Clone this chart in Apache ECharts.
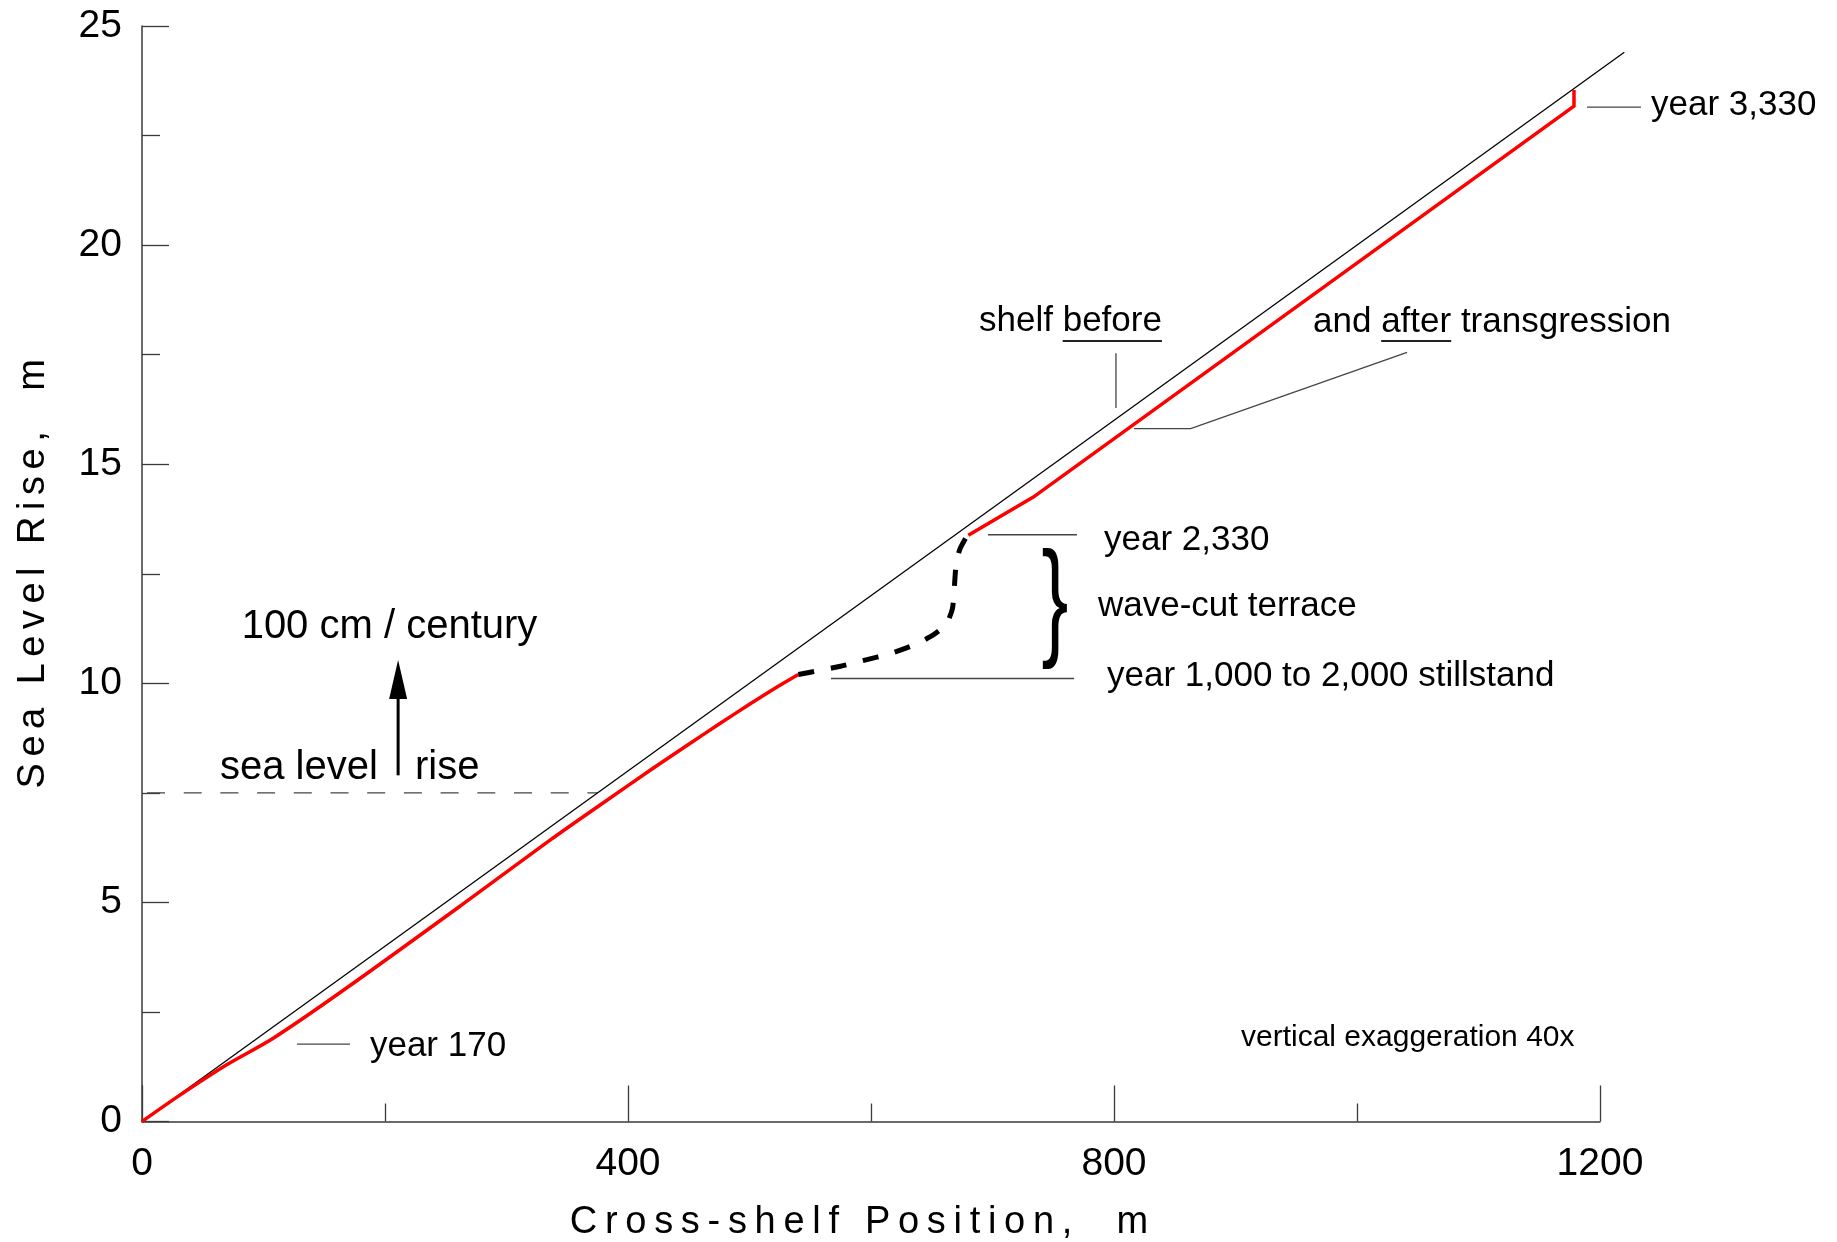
<!DOCTYPE html>
<html>
<head>
<meta charset="utf-8">
<script src="https://cdn.jsdelivr.net/npm/echarts@6/dist/echarts.min.js"></script>
<style>
html,body{margin:0;padding:0;background:#fff;}
#chart{width:1837px;height:1242px;}
</style>
</head>
<body>
<div id="chart"></div>
<script>
// ---------------- data ----------------
const xTicks = [0, 400, 800, 1200];
const yTicks = [0, 5, 10, 15, 20, 25];

// initial shelf profile (before transgression)
const shelfBeforeX = [0, 1220];
const shelfBeforeY = [0, 24.4];

// shelf after transgression: lower part (years 0 - 1,000)
const lowerProfileX = [0, 30, 70, 108, 166, 268.5, 335.8, 380, 420, 450, 475, 500, 520, 540.2];
const lowerProfileY = [0, 0.58, 1.30, 1.90, 3.00, 5.05, 6.42, 7.28, 8.05, 8.61, 9.07, 9.52, 9.87, 10.20];

// wave-cut terrace during stillstand (dashed)
const terraceX = [540.2, 555, 575, 595, 615, 635, 651, 662, 667, 668.5, 670, 673, 679, 680.1];
const terraceY = [10.20, 10.28, 10.39, 10.53, 10.67, 10.87, 11.10, 11.35, 11.70, 12.15, 12.70, 13.05, 13.36, 13.38];

// shelf after transgression: upper part (years 2,330 - 3,330)
const upperProfileX = [680.1, 733.6, 1178.6, 1178.6];
const upperProfileY = [13.38, 14.25, 23.17, 23.54];

// reference sea level (dashed)
const seaLevelX = [0, 375];
const seaLevelY = [7.5, 7.5];

const xAxisTitle = 'Cross-shelf Position,  m';
const yAxisTitle = 'Sea Level Rise,  m';

// ---------------- tracked (letter-spaced) drawing for the two axis titles only ----------------
const SPACED = {};
SPACED[xAxisTitle] = 7.7;
SPACED[yAxisTitle] = 6.5;
(function () {
  const proto = CanvasRenderingContext2D.prototype;
  const orig = proto.fillText;
  proto.fillText = function (t, x, y) {
    const ls = SPACED[t];
    if (ls != null) {
      const chars = Array.from(t);
      const widths = chars.map(c => this.measureText(c).width);
      const total = widths.reduce((a, b) => a + b, 0) + ls * (chars.length - 1);
      const align = this.textAlign;
      let cx = x;
      if (align === 'center') cx = x - total / 2;
      else if (align === 'right' || align === 'end') cx = x - total;
      this.textAlign = 'left';
      for (let i = 0; i < chars.length; i++) {
        orig.call(this, chars[i], cx, y);
        cx += widths[i] + ls;
      }
      this.textAlign = align;
      return;
    }
    return orig.apply(this, arguments);
  };
})();

const FONT = '"Liberation Sans", Arial, Helvetica, sans-serif';
const AX = '#3a3a3a';

function pairs(xs, ys) { return xs.map((x, i) => [x, ys[i]]); }

const chart = echarts.init(document.getElementById('chart'), null, { renderer: 'canvas' });

const option = {
  animation: false,
  backgroundColor: '#ffffff',
  grid: { left: 142, right: 237, top: 26, bottom: 120.5, containLabel: false, outerBoundsMode: 'none' },
  xAxis: {
    type: 'value',
    min: xTicks[0], max: xTicks[xTicks.length - 1], interval: xTicks[1] - xTicks[0],
    name: xAxisTitle, nameLocation: 'middle', nameGap: 82,
    nameTextStyle: { fontFamily: FONT, fontSize: 38, color: '#000', padding: [0, 24, 0, 0] },
    axisLine: { show: true, onZero: false, lineStyle: { color: AX, width: 1.5 } },
    axisTick: { show: true, inside: true, length: 36, lineStyle: { color: AX, width: 1.3 } },
    minorTick: { show: true, splitNumber: 2, length: 18, lineStyle: { color: AX, width: 1.3 } },
    axisLabel: { fontFamily: FONT, fontSize: 39, color: '#000', margin: 23, formatter: v => String(v) },
    splitLine: { show: false }, minorSplitLine: { show: false }
  },
  yAxis: {
    type: 'value',
    min: yTicks[0], max: yTicks[yTicks.length - 1], interval: yTicks[1] - yTicks[0],
    name: yAxisTitle, nameLocation: 'middle', nameGap: 89, nameRotate: 90,
    nameTextStyle: { fontFamily: FONT, fontSize: 38, color: '#000' },
    axisLine: { show: true, onZero: false, lineStyle: { color: AX, width: 1.5 } },
    axisTick: { show: true, inside: true, length: 27, lineStyle: { color: AX, width: 1.3 } },
    minorTick: { show: true, splitNumber: 2, length: 18, lineStyle: { color: AX, width: 1.3 } },
    axisLabel: { fontFamily: FONT, fontSize: 39, color: '#000', margin: 20, formatter: v => String(v) },
    splitLine: { show: false }, minorSplitLine: { show: false }
  },
  series: [
    // 'lines' series so the profile may run past the x-axis end (line series clips along the base axis)
    { name: 'shelf before', type: 'lines', coordinateSystem: 'cartesian2d', polyline: true, clip: false,
      silent: true, z: 2, data: [{ coords: pairs(shelfBeforeX, shelfBeforeY) }],
      lineStyle: { color: '#000', width: 1.3, opacity: 1, curveness: 0 } },
    { name: 'sea level', type: 'line', data: pairs(seaLevelX, seaLevelY), showSymbol: false, silent: true, z: 1,
      lineStyle: { color: '#444', width: 1.4, type: [18, 18.7], dashOffset: 31.7 } },
    { name: 'after lower', type: 'line', data: pairs(lowerProfileX, lowerProfileY), showSymbol: false, silent: true, z: 3,
      smooth: 0.3, lineStyle: { color: '#ff0000', width: 3.5, join: 'round' } },
    { name: 'stillstand terrace', type: 'line', data: pairs(terraceX, terraceY), showSymbol: false, silent: true, z: 3,
      smooth: 0.2, lineStyle: { color: '#000', width: 5, type: [16, 17], cap: 'butt' } },
    { name: 'after upper', type: 'line', data: pairs(upperProfileX, upperProfileY), showSymbol: false, silent: true, z: 3,
      lineStyle: { color: '#ff0000', width: 3.5, join: 'miter' } }
  ]
};
chart.setOption(option);

// ---------------- annotations (anchored in data coordinates) ----------------
const notes = [
  { text: 'year 170', at: [187.6, 1.72], size: 35 },
  { text: 'vertical exaggeration 40x', at: [904.5, 1.905], size: 30 },
  { text: 'year 3,330', at: [1242, 23.19], size: 35 },
  { text: 'shelf before', at: [688.9, 18.26], size: 35, underline: 'before' },
  { text: 'and after transgression', at: [963.8, 18.24], size: 35, underline: 'after' },
  { text: 'year 2,330', at: [791.8, 13.26], size: 35 },
  { text: 'wave-cut terrace', at: [786.8, 11.76], size: 35 },
  { text: 'year 1,000 to 2,000 stillstand', at: [794.2, 10.16], size: 35 },
  { text: '100 cm / century', at: [82, 11.29], size: 40 },
  { text: 'sea level', at: [64.2, 8.07], size: 40 },
  { text: 'rise', at: [224.7, 8.07], size: 40 }
];
const underlineY = 17.81;
const pointers = [
  [[127.6, 1.768], [171.2, 1.768]],
  [[1189.3, 23.15], [1233.7, 23.15]],
  [[801.6, 17.53], [801.6, 16.28]],
  [[1041.2, 17.55], [863.1, 15.81], [816.5, 15.81]],
  [[696.3, 13.39], [769.5, 13.39]],
  [[567.1, 10.11], [767.1, 10.11]]
];
const arrowFrom = [210.8, 7.9];
const arrowTo = [210.8, 10.53];
const braceCenter = [751.4, 11.76];
const braceSpan = [10.37, 13.15];

const px = (p) => chart.convertToPixel({ gridIndex: 0 }, p);
const mctx = document.createElement('canvas').getContext('2d');
function textW(s, size) { mctx.font = size + 'px ' + FONT; return mctx.measureText(s).width; }

const g = [];
notes.forEach(n => {
  const p = px(n.at);
  g.push({ type: 'text', x: p[0], y: p[1], silent: true, z: 10,
    style: { text: n.text, fontFamily: FONT, fontSize: n.size, fill: '#000', align: 'left', verticalAlign: 'middle' } });
  if (n.underline) {
    const idx = n.text.indexOf(n.underline);
    const x1 = p[0] + textW(n.text.slice(0, idx), n.size);
    const x2 = x1 + textW(n.underline, n.size);
    const uy = px([0, underlineY])[1];
    g.push({ type: 'line', silent: true, z: 10, shape: { x1: x1, y1: uy, x2: x2, y2: uy },
      style: { stroke: '#222', lineWidth: 2 } });
  }
});
pointers.forEach(pts => {
  g.push({ type: 'polyline', silent: true, z: 10, shape: { points: pts.map(px) },
    style: { stroke: '#444', lineWidth: 1.3, fill: null } });
});
// arrow
const a0 = px(arrowFrom), a1 = px(arrowTo);
const headH = 39, headW = 18;
g.push({ type: 'line', silent: true, z: 10, shape: { x1: a0[0], y1: a0[1], x2: a1[0], y2: a1[1] + headH - 2 },
  style: { stroke: '#000', lineWidth: 3 } });
g.push({ type: 'polygon', silent: true, z: 10,
  shape: { points: [[a1[0], a1[1]], [a1[0] - headW / 2, a1[1] + headH], [a1[0] + headW / 2, a1[1] + headH]] },
  style: { fill: '#000' } });
// brace
const bc = px(braceCenter);
const bTop = px([braceCenter[0], braceSpan[1]])[1], bBot = px([braceCenter[0], braceSpan[0]])[1];
const bSize = (bBot - bTop) / 0.94;
g.push({ type: 'text', x: bc[0], y: bc[1], scaleX: 0.62, silent: true, z: 10,
  style: { text: '}', fontFamily: FONT, fontSize: bSize, fill: '#000', align: 'center', verticalAlign: 'middle' } });

chart.setOption({ graphic: { elements: g } });
</script>
</body>
</html>
